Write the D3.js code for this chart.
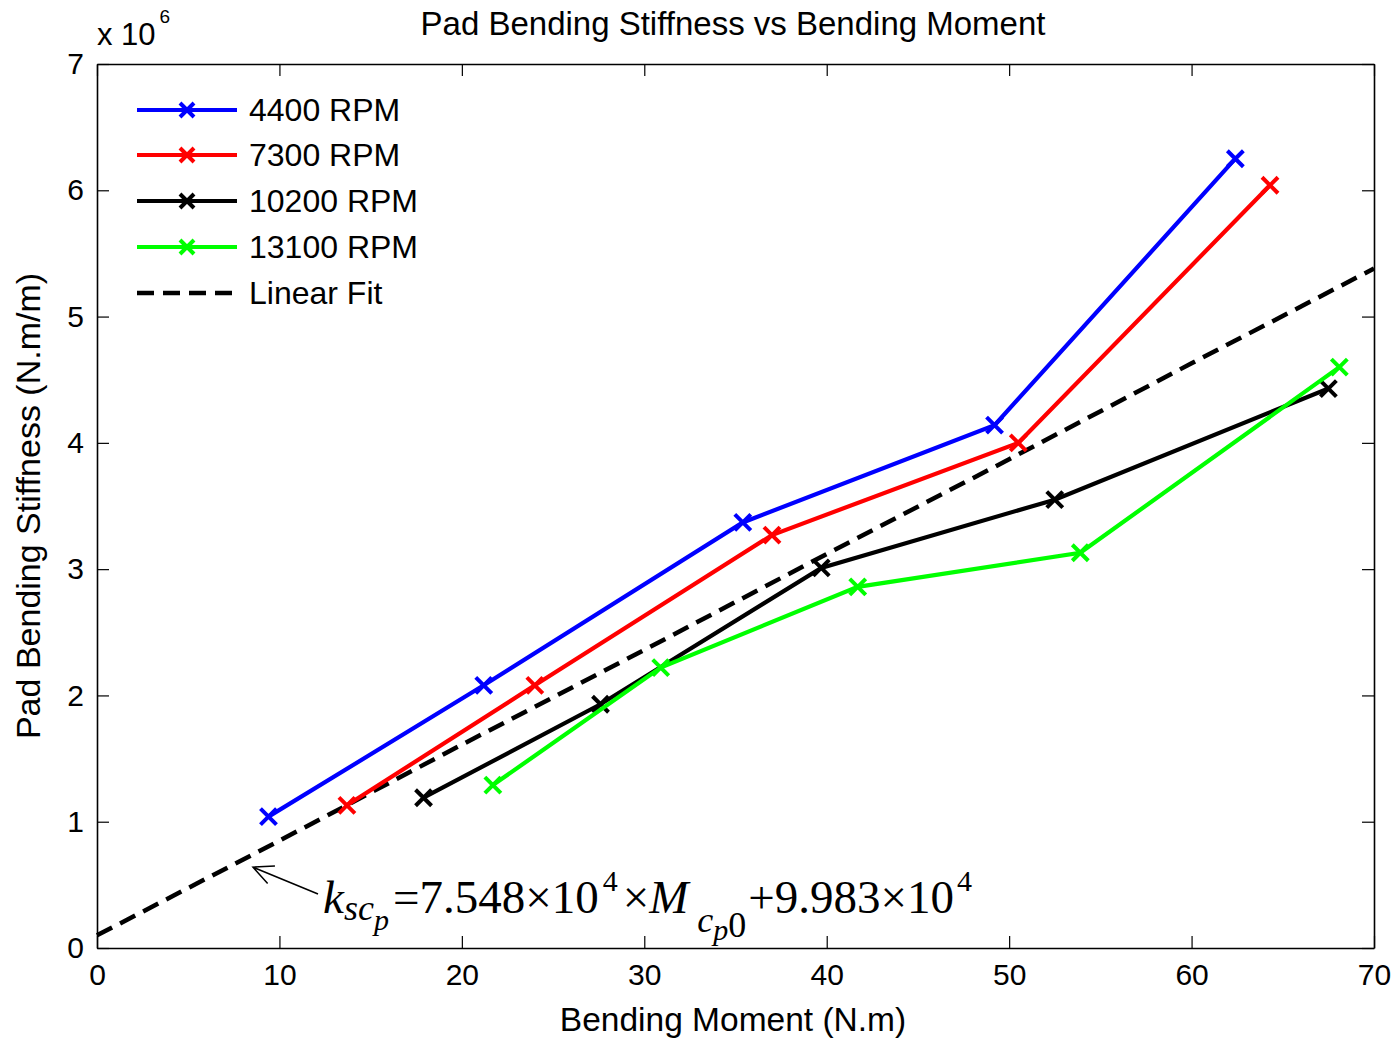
<!DOCTYPE html>
<html>
<head>
<meta charset="utf-8">
<script src="https://cdn.jsdelivr.net/npm/d3@7"></script>
<style>
  body { margin: 0; background: #fff; }
  text { font-family: "Liberation Sans", Arial, sans-serif; fill: #000; }
  .eq { font-family: "Liberation Serif", "Times New Roman", serif; }
</style>
</head>
<body>
<div id="chart"></div>
<script>
// bending moment (N.m) and stiffness (x 10^6 N.m/m) for each speed
var rpm4400_x = [9.4, 21.2, 35.4, 49.2, 62.4];
var rpm4400_y = [1.04, 2.08, 3.37, 4.14, 6.25];
var rpm7300_x = [13.7, 24.0, 37.0, 50.5, 64.3];
var rpm7300_y = [1.13, 2.08, 3.27, 4.00, 6.04];
var rpm10200_x = [17.9, 27.6, 39.7, 52.5, 67.5];
var rpm10200_y = [1.19, 1.93, 3.01, 3.55, 4.43];
var rpm13100_x = [21.7, 30.9, 41.7, 53.9, 68.1];
var rpm13100_y = [1.29, 2.22, 2.86, 3.13, 4.60];
var fit_x = [0, 10, 20, 30, 40, 50, 60, 70];
var fit_y = [0.10, 0.85, 1.61, 2.36, 3.12, 3.87, 4.63, 5.38];

var seriesNames = ["4400 RPM", "7300 RPM", "10200 RPM", "13100 RPM"];
var seriesColors = ["#0000ff", "#ff0000", "#000000", "#00ff00"];
var xTicks = [0, 10, 20, 30, 40, 50, 60, 70];
var yTicks = [0, 1, 2, 3, 4, 5, 6, 7];

var width = 1399, height = 1039;
var plotLeft = 97, plotTop = 64, plotRight = 1374, plotBottom = 948;

var svg = d3.select("#chart").append("svg")
    .attr("width", width)
    .attr("height", height);

var x = d3.scaleLinear().domain([0, 70]).range([plotLeft, plotRight]);
var y = d3.scaleLinear().domain([0, 7]).range([plotBottom, plotTop]);

// axes box with inward ticks on all sides
svg.append("g").attr("transform", "translate(0," + plotBottom + ")")
   .call(d3.axisBottom(x).tickValues(xTicks).tickFormat(d3.format("d")).tickSizeInner(-12).tickSizeOuter(0).tickPadding(16))
   .call(function(g) {
      g.selectAll("text").style("font-size", "30px").attr("dy", "0.71em");
   });
svg.append("g").attr("transform", "translate(0," + plotTop + ")")
   .call(d3.axisTop(x).tickValues(xTicks).tickSizeInner(-12).tickSizeOuter(0).tickFormat(""));
svg.append("g").attr("transform", "translate(" + plotLeft + ",0)")
   .call(d3.axisLeft(y).tickValues(yTicks).tickFormat(d3.format("d")).tickSizeInner(-12).tickSizeOuter(0).tickPadding(13))
   .call(function(g) {
      g.selectAll("text").style("font-size", "30px");
   });
svg.append("g").attr("transform", "translate(" + plotRight + ",0)")
   .call(d3.axisRight(y).tickValues(yTicks).tickSizeInner(-12).tickSizeOuter(0).tickFormat(""));

svg.selectAll(".domain").attr("stroke", "#000").attr("stroke-width", 1.6);
svg.selectAll(".tick line").attr("stroke", "#000").attr("stroke-width", 1.2);
svg.selectAll(".tick text").attr("fill", "#000").style("font-family", "'Liberation Sans', Arial, sans-serif");

// linear fit
var line = d3.line().x(function(d) { return x(d[0]); }).y(function(d) { return y(d[1]); });
svg.append("path")
   .datum(d3.zip(fit_x, fit_y))
   .attr("d", line)
   .attr("fill", "none")
   .attr("stroke", "#000")
   .attr("stroke-width", 4.5)
   .attr("stroke-dasharray", "17,9");

var allSeries = [
  d3.zip(rpm4400_x, rpm4400_y),
  d3.zip(rpm7300_x, rpm7300_y),
  d3.zip(rpm10200_x, rpm10200_y),
  d3.zip(rpm13100_x, rpm13100_y)
];

var crossPath = function(s) {
  return "M" + (-s) + "," + (-s) + "L" + s + "," + s + "M" + (-s) + "," + s + "L" + s + "," + (-s);
};

allSeries.forEach(function(pts, i) {
  svg.append("path")
     .datum(pts)
     .attr("d", line)
     .attr("fill", "none")
     .attr("stroke", seriesColors[i])
     .attr("stroke-width", 4.2);
  svg.append("g").selectAll("path")
     .data(pts)
     .enter()
     .append("path")
     .attr("transform", function(d) { return "translate(" + x(d[0]) + "," + y(d[1]) + ")"; })
     .attr("d", crossPath(8))
     .attr("stroke", seriesColors[i])
     .attr("stroke-width", 4)
     .attr("fill", "none");
});

// legend (no box)
var legendRows = seriesNames.concat(["Linear Fit"]);
var legendY = [110, 155, 201, 247, 293];
legendRows.forEach(function(name, i) {
  var ly = legendY[i];
  var g = svg.append("g");
  if (i < 4) {
    g.append("line").attr("x1", 137).attr("x2", 237).attr("y1", ly).attr("y2", ly)
     .attr("stroke", seriesColors[i]).attr("stroke-width", 4.2);
    g.append("path").attr("transform", "translate(187," + ly + ")")
     .attr("d", crossPath(7)).attr("stroke", seriesColors[i]).attr("stroke-width", 4);
  } else {
    g.append("line").attr("x1", 137).attr("x2", 237).attr("y1", ly).attr("y2", ly)
     .attr("stroke", "#000").attr("stroke-width", 4.5).attr("stroke-dasharray", "17,9");
  }
  g.append("text").attr("x", 249).attr("y", ly + 11).style("font-size", "32px").text(name);
});

// title and labels
svg.append("text").attr("x", 733).attr("y", 35).attr("text-anchor", "middle")
   .style("font-size", "33px").text("Pad Bending Stiffness vs Bending Moment");
svg.append("text").attr("x", 733).attr("y", 1031).attr("text-anchor", "middle")
   .style("font-size", "33.5px").text("Bending Moment (N.m)");
svg.append("text").attr("transform", "translate(40,506) rotate(-90)").attr("text-anchor", "middle")
   .style("font-size", "34px").text("Pad Bending Stiffness (N.m/m)");

// exponent label
var expo = svg.append("text").attr("x", 97).attr("y", 45).style("font-size", "31px");
expo.append("tspan").text("x 10");
expo.append("tspan").attr("dx", 4).attr("y", 23).style("font-size", "19px").text("6");

// equation annotation with arrow
var tipX = x(8.55), tipY = y(0.64);
var tailX = 318, tailY = 894;
var ang = Math.atan2(tailY - tipY, tailX - tipX);
var armLen = 22, spread = 0.45;
svg.append("path")
   .attr("d", "M" + tailX + "," + tailY + "L" + tipX + "," + tipY +
        "M" + (tipX + armLen * Math.cos(ang - spread)) + "," + (tipY + armLen * Math.sin(ang - spread)) +
        "L" + tipX + "," + tipY +
        "L" + (tipX + armLen * Math.cos(ang + spread)) + "," + (tipY + armLen * Math.sin(ang + spread)))
   .attr("fill", "none").attr("stroke", "#000").attr("stroke-width", 1.5);

var eq = svg.append("text").attr("class", "eq").attr("x", 323).attr("y", 913).style("font-size", "47px");
eq.append("tspan").style("font-style", "italic").text("k");
eq.append("tspan").attr("y", 920).style("font-style", "italic").style("font-size", "36px").text("sc");
eq.append("tspan").attr("y", 930).style("font-style", "italic").style("font-size", "30px").text("p");
eq.append("tspan").attr("y", 913).attr("dx", 4).text("=7.548×10");
eq.append("tspan").attr("y", 891).attr("dx", 4).style("font-size", "30px").text("4");
eq.append("tspan").attr("y", 913).attr("dx", 5).text("×");
eq.append("tspan").style("font-style", "italic").text("M");
eq.append("tspan").attr("y", 932).attr("dx", 9).style("font-style", "italic").style("font-size", "36px").text("c");
eq.append("tspan").attr("y", 940).style("font-style", "italic").style("font-size", "30px").text("p");
eq.append("tspan").attr("y", 937).style("font-size", "36px").text("0");
eq.append("tspan").attr("y", 913).attr("dx", 2).text("+9.983×10");
eq.append("tspan").attr("y", 891).attr("dx", 3).style("font-size", "30px").text("4");
</script>
</body>
</html>
